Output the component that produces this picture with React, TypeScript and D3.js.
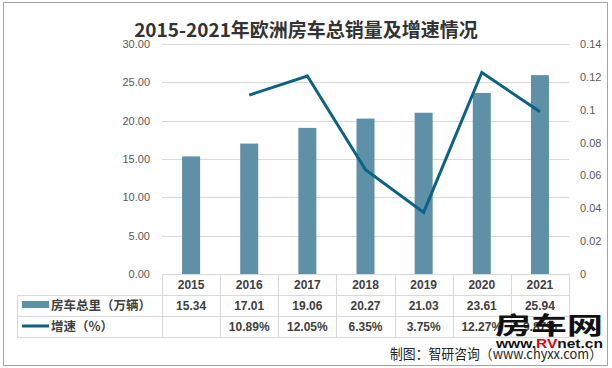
import { useEffect, useRef } from 'react';
import * as d3 from 'd3';

const YEARS = ['2015', '2016', '2017', '2018', '2019', '2020', '2021'];
const SALES = [15.34, 17.01, 19.06, 20.27, 21.03, 23.61, 25.94];
const GROWTH: (number | null)[] = [null, 0.1089, 0.1205, 0.0635, 0.0375, 0.1227, 0.0987];
const LEFT_TICKS = [0, 5, 10, 15, 20, 25, 30];
const RIGHT_TICKS = [0, 0.02, 0.04, 0.06, 0.08, 0.1, 0.12, 0.14];

const BAR_COLOR = '#5e91a8';
const LINE_COLOR = '#0b6283';
const CJK = '"Noto Sans CJK SC", "Liberation Sans", sans-serif';
const LATIN = '"Liberation Sans", Arial, sans-serif';

export default function App() {
  const svgRef = useRef<SVGSVGElement>(null);
  const width = 612;
  const height = 368;

  useEffect(() => {
    if (!svgRef.current) return;
    const svg = d3.select(svgRef.current);
    svg.selectAll('*').remove();

    const left = 162;
    const right = 569;
    const top = 44;
    const bottom = 274;
    const rowH = 21;
    const tableLeft = 17;

    // frame
    svg.append('rect')
      .attr('x', 3.5).attr('y', 2.5).attr('width', 604).attr('height', 363)
      .attr('fill', '#fff').attr('stroke', '#a6a6a6');

    const x = d3.scaleBand().domain(YEARS).range([left, right]).paddingInner(0).paddingOuter(0);
    const y = d3.scaleLinear().domain([0, 30]).range([bottom, top]);
    const y2 = d3.scaleLinear().domain([0, 0.14]).range([bottom, top]);

    // title
    svg.append('text')
      .attr('x', 306).attr('y', 37)
      .attr('text-anchor', 'middle')
      .attr('font-family', CJK)
      .attr('font-size', 19)
      .attr('font-weight', 'bold')
      .attr('fill', '#333')
      .text('2015-2021年欧洲房车总销量及增速情况');

    // gridlines
    svg.append('g').selectAll('line')
      .data(LEFT_TICKS.slice(1))
      .join('line')
      .attr('x1', left).attr('x2', right)
      .attr('y1', (d) => Math.round(y(d)) + 0.5)
      .attr('y2', (d) => Math.round(y(d)) + 0.5)
      .attr('stroke', '#d9d9d9');

    // left axis labels
    svg.append('g').selectAll('text')
      .data(LEFT_TICKS)
      .join('text')
      .attr('x', 150).attr('y', (d) => y(d) + 4)
      .attr('text-anchor', 'end')
      .attr('font-family', LATIN)
      .attr('font-size', 11)
      .attr('fill', '#595959')
      .text((d) => d3.format('.2f')(d));

    // right axis labels
    svg.append('g').selectAll('text')
      .data(RIGHT_TICKS)
      .join('text')
      .attr('x', 580).attr('y', (d) => y2(d) + 4)
      .attr('text-anchor', 'start')
      .attr('font-family', LATIN)
      .attr('font-size', 11)
      .attr('fill', '#595959')
      .text((d) => d3.format('~g')(d));

    // bars
    const barW = 18;
    svg.append('g').selectAll('rect')
      .data(SALES)
      .join('rect')
      .attr('x', (d, i) => x(YEARS[i])! + x.bandwidth() / 2 - barW / 2)
      .attr('y', (d) => y(d))
      .attr('width', barW)
      .attr('height', (d) => bottom - y(d))
      .attr('fill', BAR_COLOR);

    // growth line
    const pts = GROWTH.map((g, i) => ({ g, i })).filter((d) => d.g !== null) as { g: number; i: number }[];
    const line = d3.line<{ g: number; i: number }>()
      .x((d) => x(YEARS[d.i])! + x.bandwidth() / 2)
      .y((d) => y2(d.g));
    svg.append('path')
      .attr('d', line(pts))
      .attr('fill', 'none')
      .attr('stroke', LINE_COLOR)
      .attr('stroke-width', 3)
      .attr('stroke-linejoin', 'miter');

    // data table
    const grid = svg.append('g').attr('stroke', '#d9d9d9').attr('fill', 'none');
    grid.append('line').attr('x1', left).attr('x2', right).attr('y1', bottom + 0.5).attr('y2', bottom + 0.5);
    [1, 2, 3].forEach((r) => {
      grid.append('line').attr('x1', tableLeft).attr('x2', right)
        .attr('y1', bottom + r * rowH + 0.5).attr('y2', bottom + r * rowH + 0.5);
    });
    grid.append('line').attr('x1', tableLeft + 0.5).attr('x2', tableLeft + 0.5)
      .attr('y1', bottom + rowH).attr('y2', bottom + 3 * rowH);
    YEARS.forEach((yr) => {
      const xv = Math.round(x(yr)!) + 0.5;
      grid.append('line').attr('x1', xv).attr('x2', xv).attr('y1', bottom).attr('y2', bottom + 3 * rowH);
    });
    grid.append('line').attr('x1', right + 0.5).attr('x2', right + 0.5).attr('y1', bottom).attr('y2', bottom + 3 * rowH);

    const cellText = (row: number, vals: string[]) => {
      svg.append('g').selectAll('text')
        .data(vals)
        .join('text')
        .attr('x', (d, i) => x(YEARS[i])! + x.bandwidth() / 2)
        .attr('y', bottom + row * rowH + 15)
        .attr('text-anchor', 'middle')
        .attr('font-family', LATIN)
        .attr('font-size', 12)
        .attr('font-weight', 'bold')
        .attr('fill', '#404040')
        .text((d) => d);
    };
    cellText(0, YEARS);
    cellText(1, SALES.map((v) => v.toFixed(2)));
    cellText(2, GROWTH.map((v) => (v === null ? '' : (v * 100).toFixed(2) + '%')));

    // legend keys inside the table
    svg.append('rect').attr('x', 22).attr('y', bottom + rowH + 6).attr('width', 27).attr('height', 7).attr('fill', BAR_COLOR);
    svg.append('line').attr('x1', 22).attr('x2', 49)
      .attr('y1', bottom + 2 * rowH + 10).attr('y2', bottom + 2 * rowH + 10)
      .attr('stroke', LINE_COLOR).attr('stroke-width', 3);
    svg.append('text').attr('x', 51).attr('y', bottom + rowH + 15)
      .attr('font-family', CJK).attr('font-size', 12.5).attr('font-weight', 'bold').attr('fill', '#404040')
      .text('房车总里（万辆）');
    svg.append('text').attr('x', 51).attr('y', bottom + 2 * rowH + 15)
      .attr('font-family', CJK).attr('font-size', 12.5).attr('font-weight', 'bold').attr('fill', '#404040')
      .text('增速（%）');

    // watermark
    svg.append('text').attr('x', 495).attr('y', 334)
      .attr('font-family', CJK).attr('font-size', 24).attr('font-weight', 'bold').attr('fill', '#111')
      .attr('textLength', 108).attr('lengthAdjust', 'spacingAndGlyphs')
      .text('房车网');
    const wm = svg.append('text').attr('x', 496).attr('y', 348)
      .attr('font-family', LATIN).attr('font-size', 13).attr('font-weight', 'bold').attr('fill', '#111')
      .attr('textLength', 107).attr('lengthAdjust', 'spacingAndGlyphs');
    wm.append('tspan').text('www.');
    wm.append('tspan').attr('fill', '#e60012').text('RV');
    wm.append('tspan').text('net.cn');

    svg.append('text').attr('x', 602).attr('y', 359)
      .attr('text-anchor', 'end')
      .attr('font-family', CJK).attr('font-size', 13.5).attr('fill', '#222')
      .attr('textLength', 212).attr('lengthAdjust', 'spacingAndGlyphs')
      .text('制图：智研咨询（www.chyxx.com）');
  }, []);

  return (
    <svg
      ref={svgRef}
      width={width}
      height={height}
      style={{ position: 'absolute', left: 0, top: 0, background: '#fff' }}
    />
  );
}
